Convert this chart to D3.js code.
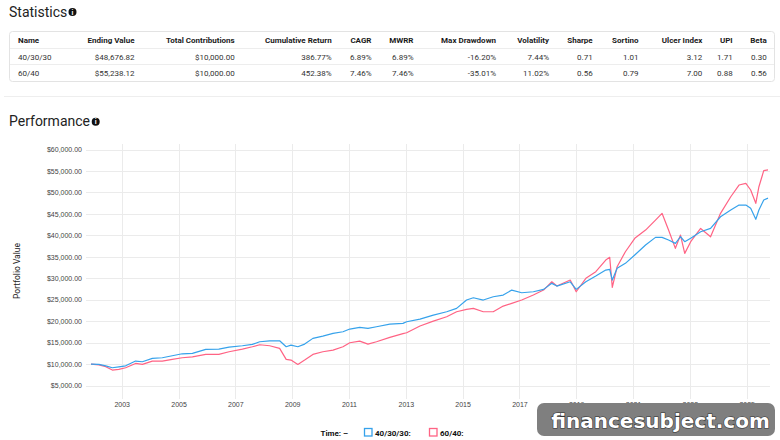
<!DOCTYPE html>
<html lang="en">
<head>
<meta charset="UTF-8">
<title>Statistics and Performance</title>
<script src="https://cdn.jsdelivr.net/npm/d3@7"></script>
<style>
    body { margin: 0; background: #fff; }
    svg { font-family: Roboto, "Noto Sans", sans-serif; display: block; }
    .grid line { stroke: #ebebeb; stroke-width: 1; }
    .tick text { fill: #444; font-size: 7px; }
</style>
</head>
<body>
<div id="output"></div>
<script>

// ---- data ----
var statHeaders = ["Name", "Ending Value", "Total Contributions", "Cumulative Return", "CAGR", "MWRR",
    "Max Drawdown", "Volatility", "Sharpe", "Sortino", "Ulcer Index", "UPI", "Beta"];
var statRow4030 = ["40/30/30", "$48,676.82", "$10,000.00", "386.77%", "6.89%", "6.89%",
    "-16.20%", "7.44%", "0.71", "1.01", "3.12", "1.71", "0.30"];
var statRow6040 = ["60/40", "$55,238.12", "$10,000.00", "452.38%", "7.46%", "7.46%",
    "-35.01%", "11.02%", "0.56", "0.79", "7.00", "0.88", "0.56"];

var seriesNames = ["40/30/30", "60/40"];

// decimal years
var years = [2001.92, 2002.2, 2002.44, 2002.67, 2002.9, 2003.14, 2003.49, 2003.73, 2004.08, 2004.43,
    2004.78, 2005.13, 2005.49, 2005.96, 2006.42, 2006.78, 2007.25, 2007.6, 2007.86, 2008.21,
    2008.56, 2008.79, 2008.96, 2009.2, 2009.44, 2009.73, 2010.08, 2010.44, 2010.79, 2011.03,
    2011.38, 2011.67, 2011.97, 2012.44, 2012.9, 2013.03, 2013.5, 2013.97, 2014.44, 2014.79,
    2015.14, 2015.38, 2015.73, 2016.08, 2016.43, 2016.73, 2017.08, 2017.49, 2017.85, 2018.14,
    2018.32, 2018.79, 2019.0, 2019.34, 2019.69, 2020.04, 2020.18, 2020.27, 2020.44, 2020.73,
    2021.06, 2021.44, 2021.79, 2022.02, 2022.25, 2022.49, 2022.67, 2022.82, 2023.03, 2023.38,
    2023.73, 2024.08, 2024.44, 2024.73, 2024.97, 2025.14, 2025.32, 2025.43, 2025.6, 2025.75];

var values4030 = [10000, 9950, 9600, 9150, 9370, 9600, 10700, 10540, 11330, 11470,
    11940, 12400, 12490, 13430, 13500, 13960, 14270, 14590, 15200, 15430,
    15430, 14040, 14430, 14040, 14660, 15990, 16530, 17160, 17530, 18160,
    18550, 18320, 18700, 19320, 19480, 19860, 20490, 21420, 22190, 22980,
    24920, 25460, 24920, 25690, 26080, 27250, 26620, 26850, 27410, 28810,
    28180, 29180, 27410, 29180, 30510, 31910, 32070, 29580, 32310, 33470,
    35410, 37740, 39530, 39530, 38900, 38130, 39670, 38510, 39300, 40840,
    41610, 44330, 45900, 47060, 47060, 46290, 43730, 45900, 48230, 48676.82];

var values6040 = [10000, 9800, 9400, 8600, 8750, 9150, 10150, 9930, 10700, 10700,
    11100, 11470, 11700, 12260, 12260, 12870, 13500, 14040, 14500, 14270,
    13660, 11100, 10930, 9930, 10930, 12260, 12870, 13260, 14040, 14970,
    15360, 14660, 15200, 16220, 17100, 17300, 18860, 20020, 21030, 22190,
    22750, 22980, 22190, 22190, 23520, 24150, 24920, 26080, 27250, 29180,
    28180, 29580, 26850, 29980, 31520, 34240, 34870, 27880, 32680, 36180,
    39300, 41230, 43560, 45130, 41230, 36970, 40070, 35800, 38510, 41610,
    39670, 45130, 48990, 51720, 52100, 50560, 47460, 51330, 55060, 55238.12];

var yTickValues = [5000, 10000, 15000, 20000, 25000, 30000, 35000, 40000, 45000, 50000, 55000, 60000];
var xTickYears = [2003, 2005, 2007, 2009, 2011, 2013, 2015, 2017, 2019, 2021, 2023, 2025];

// ---- layout ----
var w = 780;
var h = 440;
var colors = ["#36a2eb", "#ff6384"];

var svg = d3.select("#output")
    .append("svg")
    .attr("width", w)
    .attr("height", h);

function yearToDate(y) {
    var yr = Math.floor(y);
    var a = new Date(yr, 0, 1), b = new Date(yr + 1, 0, 1);
    return new Date(+a + (y - yr) * (b - a));
}

function infoIcon(cx, cy) {
    var g = svg.append("g").attr("transform", "translate(" + cx + "," + cy + ")");
    g.append("circle").attr("r", 4).attr("fill", "#111");
    g.append("text").text("i")
        .attr("y", 2.6).attr("text-anchor", "middle")
        .attr("fill", "#fff").style("font-size", "7px").style("font-weight", "bold");
}

/*
* Statistics table
* */
svg.append("text").text("Statistics")
    .attr("x", 9).attr("y", 17)
    .attr("fill", "#222").style("font-size", "14px");
infoIcon(72.5, 12);

var colX = [18, 134.5, 234.7, 331.7, 371.5, 413.5, 496, 549, 592.7, 638.5, 702.3, 732.7, 766.7];

svg.append("rect")
    .attr("x", 9.5).attr("y", 31.5)
    .attr("width", 765).attr("height", 50)
    .attr("rx", 3)
    .attr("fill", "none").attr("stroke", "#e3e3e3");

[48.5, 64.5].forEach(function(y) {
    svg.append("line")
        .attr("x1", 10).attr("x2", 774)
        .attr("y1", y).attr("y2", y)
        .attr("stroke", "#ededed");
});

var tableRows = [statHeaders, statRow4030, statRow6040];
var rowY = [43, 59.5, 75.5];

tableRows.forEach(function(row, ri) {
    svg.append("g").selectAll("text")
        .data(row)
        .enter()
        .append("text")
        .text(function(d) { return d; })
        .attr("x", function(d, i) { return colX[i]; })
        .attr("y", rowY[ri])
        .attr("text-anchor", function(d, i) { return i === 0 ? "start" : "end"; })
        .attr("fill", ri === 0 ? "#1a1a1a" : "#333")
        .style("font-size", "8px")
        .style("font-weight", ri === 0 ? "bold" : "normal");
});

svg.append("line")
    .attr("x1", 4).attr("x2", 780)
    .attr("y1", 96.5).attr("y2", 96.5)
    .attr("stroke", "#eeeeee");

/*
* Performance chart
* */
svg.append("text").text("Performance")
    .attr("x", 9).attr("y", 125.5)
    .attr("fill", "#222").style("font-size", "14px");
infoIcon(95.7, 121.7);

var dates = years.map(yearToDate);

var xScale = d3.scaleTime()
    .domain([dates[0], dates[dates.length - 1]])
    .range([91, 768]);

var yScale = d3.scaleLinear()
    .domain([0, 60000])
    .range([407, 149.5]);

var plotLeft = 86, plotRight = 770, plotTop = 144, plotBottom = 399;

// grid
var grid = svg.append("g").attr("class", "grid");
grid.selectAll("line.h")
    .data(yTickValues)
    .enter()
    .append("line")
    .attr("class", "h")
    .attr("x1", plotLeft).attr("x2", plotRight)
    .attr("y1", function(d) { return Math.round(yScale(d)) + 0.5; })
    .attr("y2", function(d) { return Math.round(yScale(d)) + 0.5; });

grid.selectAll("line.v")
    .data(xTickYears)
    .enter()
    .append("line")
    .attr("class", "v")
    .attr("y1", plotTop).attr("y2", plotBottom)
    .attr("x1", function(d) { return Math.round(xScale(new Date(d, 0, 1))) + 0.5; })
    .attr("x2", function(d) { return Math.round(xScale(new Date(d, 0, 1))) + 0.5; });

// axes (labels only)
var yAxisGen = d3.axisLeft(yScale)
    .tickValues(yTickValues)
    .tickSize(0)
    .tickPadding(0)
    .tickFormat(d3.format("$,.2f"));

var yAxis = svg.append("g")
    .attr("transform", "translate(82,0)")
    .call(yAxisGen);
yAxis.select(".domain").remove();

var xAxisGen = d3.axisBottom(xScale)
    .tickValues(xTickYears.map(function(y) { return new Date(y, 0, 1); }))
    .tickSize(0)
    .tickPadding(0)
    .tickFormat(d3.timeFormat("%Y"));

var xAxis = svg.append("g")
    .attr("transform", "translate(0,402.5)")
    .call(xAxisGen);
xAxis.select(".domain").remove();

svg.append("text")
    .text("Portfolio Value")
    .attr("transform", "translate(19.5,271) rotate(-90)")
    .attr("text-anchor", "middle")
    .attr("fill", "#222")
    .style("font-size", "8.5px");

// lines
var line = d3.line()
    .x(function(d) { return xScale(d.date); })
    .y(function(d) { return yScale(d.value); });

[values6040, values4030].forEach(function(vals, k) {
    var pts = vals.map(function(v, i) { return { date: dates[i], value: v }; });
    svg.append("path")
        .datum(pts)
        .attr("d", line)
        .attr("fill", "none")
        .attr("stroke", k === 0 ? colors[1] : colors[0])
        .attr("stroke-width", 1.2)
        .attr("stroke-linejoin", "round");
});

// legend
var legend = svg.append("g").style("font-size", "8px").style("font-weight", "bold");
legend.append("text").text("Time:  \u2013")
    .attr("x", 320.5).attr("y", 436).attr("fill", "#111");

var legendX = [364.5, 429.5];
seriesNames.forEach(function(name, i) {
    legend.append("rect")
        .attr("x", legendX[i]).attr("y", 428.5)
        .attr("width", 7.5).attr("height", 7.5)
        .attr("fill", "#fff")
        .attr("stroke", colors[i])
        .attr("stroke-width", 1.3);
    legend.append("text").text(name + ":")
        .attr("x", legendX[i] + 10.5).attr("y", 436)
        .attr("fill", "#111");
});

// site watermark present in the reference
var mark = svg.append("g");
mark.append("rect")
    .attr("x", 537).attr("y", 403)
    .attr("width", 238).attr("height", 33)
    .attr("rx", 7)
    .attr("fill", "#7f7f7f");
mark.append("text")
    .text("financesubject.com")
    .attr("x", 660.5).attr("y", 428)
    .attr("text-anchor", "middle")
    .attr("fill", "#fff")
    .attr("stroke", "#333")
    .attr("stroke-width", 1.2)
    .attr("paint-order", "stroke")
    .style("font-family", "'DejaVu Sans', sans-serif")
    .style("font-weight", "bold")
    .style("font-size", "20px");

</script>
</body>
</html>
